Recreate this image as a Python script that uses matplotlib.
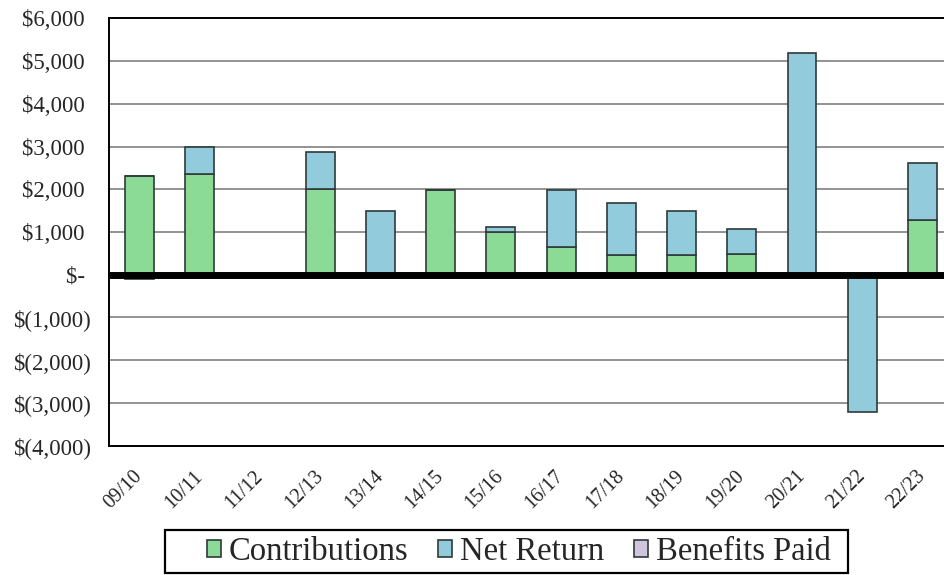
import matplotlib
matplotlib.use("Agg")
import matplotlib.pyplot as plt
import numpy as np
from matplotlib.ticker import FuncFormatter
from matplotlib.patches import Rectangle

years = ["09/10", "10/11", "11/12", "12/13", "13/14", "14/15", "15/16",
         "16/17", "17/18", "18/19", "19/20", "20/21", "21/22", "22/23"]
contributions = [2310, 2360, 0, 2010, 0, 1975, 990, 650, 470, 470, 475, 0, 0, 1285]
net_return = [0, 640, 0, 870, 1500, 0, 125, 1330, 1205, 1030, 595, 5190, -3220, 1330]
benefits_paid = [-110, 0, 0, 0, 0, 0, 0, 0, 0, 0, 0, 0, 0, 0]

green = "#8BDB96"
blue = "#92CBDC"
lavender = "#CFC6DD"
edge = "#2F3A3A"
text_color = "#262626"

plt.rcParams["font.family"] = ["Liberation Serif", "DejaVu Serif"]

fig = plt.figure(figsize=(9.44, 5.75), dpi=100)
W, H = 944, 575
ax_left, ax_right = 109.4, 952.6
ax_top, ax_bottom = 18.3, 445.7
ax = fig.add_axes([ax_left / W, 1 - ax_bottom / H,
                   (ax_right - ax_left) / W, (ax_bottom - ax_top) / H])

x = np.arange(len(years))
c = np.array(contributions, dtype=float)
n = np.array(net_return, dtype=float)
b = np.array(benefits_paid, dtype=float)
width = 0.48

ret_bottom = np.where(n >= 0, c, 0)
ax.bar(x, c, width, color=green, edgecolor=edge, linewidth=1.2, zorder=2,
       label="Contributions")
ax.bar(x, n, width, bottom=ret_bottom, color=blue, edgecolor=edge,
       linewidth=1.2, zorder=2, label="Net Return")
ax.bar(x, b, width, color=lavender, edgecolor=edge, linewidth=1.2, zorder=2,
       label="Benefits Paid")

ax.axhline(0, color="black", linewidth=5, zorder=3)

ax.set_xlim(-0.5, len(years) - 0.5)
ax.set_ylim(-4000, 6000)
ax.set_yticks(np.arange(-4000, 6001, 1000))
ax.yaxis.grid(True, color="#8a8a8a", linewidth=1.3, zorder=0)
ax.set_axisbelow(True)


def dollars(v, pos):
    if v == 0:
        return "$- "
    if v < 0:
        return "$({:,.0f})".format(-v)
    return "${:,.0f} ".format(v)


ax.yaxis.set_major_formatter(FuncFormatter(dollars))
ax.set_xticks(x)
ax.set_xticklabels(years, rotation=45, ha="right", va="center",
                   rotation_mode="anchor", fontsize=14.5, color=text_color)
ax.tick_params(axis="both", length=0)
ax.tick_params(axis="y", labelsize=16.5, pad=13.5, labelcolor=text_color)
ax.tick_params(axis="x", pad=20)
for s in ax.spines.values():
    s.set_linewidth(1.4)
    s.set_color("black")

# legend entries, with a separate outline box around them
leg = fig.legend(loc="center", bbox_to_anchor=(519 / W, 1 - 551.5 / H),
                 ncol=3, fontsize=23.5, frameon=False,
                 handlelength=0.42, handleheight=0.42,
                 handletextpad=0.25, columnspacing=0.92, borderpad=0.0,
                 labelcolor=text_color)
fig.patches.append(Rectangle((165 / W, 1 - 573 / H), (848 - 165) / W,
                             (573 - 530) / H, transform=fig.transFigure,
                             fill=False, edgecolor="black", linewidth=1.6))

fig.savefig("out.png", dpi=100)
